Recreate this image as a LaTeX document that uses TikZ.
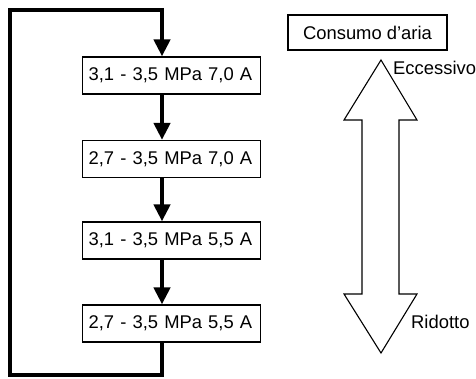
\documentclass[tikz,border=0pt]{standalone}
\usepackage{fontspec}
\setmainfont{Liberation Sans}
\usetikzlibrary{arrows.meta}
\tikzset{
  stagebox/.style={draw, line width=1.2pt, anchor=west, text width=166pt,
    align=left, inner xsep=6pt, minimum height=37pt,
    font=\fontsize{18.4}{22}\selectfont},
  titlebox/.style={draw, line width=1.2pt, minimum width=159pt,
    minimum height=35pt, font=\fontsize{18.4}{22}\selectfont},
  label/.style={inner sep=0pt, anchor=base west, font=\fontsize{18.4}{22}\selectfont},
  flow/.style={line width=4.5pt, -{Triangle[width=16pt,length=17pt]}},
  loop/.style={line width=4.5pt},
  bigarrow/.style={draw, line width=1.1pt, fill=white, line join=miter}
}
\begin{document}
\begin{tikzpicture}[x=1pt,y=-1pt]
  \useasboundingbox (0,0) rectangle (476,379);

  % pressure / current stages
  \node[stagebox] (b1) at (82,75.5) {3,1 - 3,5 MPa 7,0 A};
  \node[stagebox] (b2) at (82,159) {2,7 - 3,5 MPa 7,0 A};
  \node[stagebox] (b3) at (82,240.5) {3,1 - 3,5 MPa 5,5 A};
  \node[stagebox] (b4) at (82,323.5) {2,7 - 3,5 MPa 5,5 A};

  % column of the flow arrows
  \coordinate (col) at (162,0);
  \coordinate (lb) at (162,375);
  \coordinate (ll) at (10,375);
  \coordinate (ul) at (10,10);
  \coordinate (ur) at (162,10);

  \draw[flow] (b1.south -| col) -- (b2.north -| col);
  \draw[flow] (b2.south -| col) -- (b3.north -| col);
  \draw[flow] (b3.south -| col) -- (b4.north -| col);

  % return path from the last stage back to the first
  \draw[loop] (b4.south -| col) -- (lb) -- (ll) -- (ul) -- (ur) -- (162,20);
  \draw[flow] (162,8) -- (b1.north -| col);

  % air consumption scale
  \node[titlebox] (title) at (367.5,32.5) {Consumo d’aria};
  \draw[bigarrow] (362,120) -- (344,120) -- (381,60) -- (417,120) -- (399,120)
    -- (399,294) -- (417,294) -- (381,353) -- (344,294) -- (362,294) -- cycle;
  \node[label] (hi) at (393,75) {Eccessivo};
  \node[label] (lo) at (411,328) {Ridotto};
\end{tikzpicture}
\end{document}
